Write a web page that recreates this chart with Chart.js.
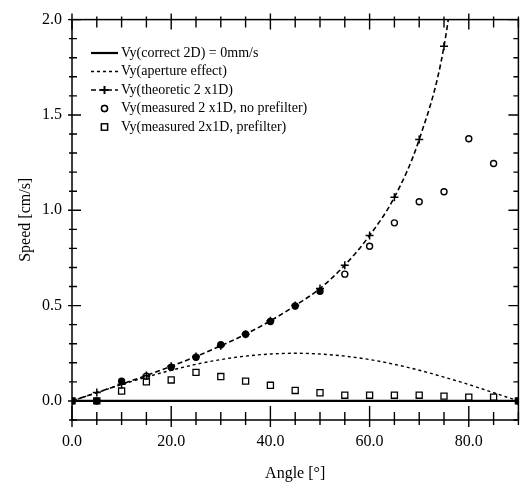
<!DOCTYPE html>
<html>
<head>
<meta charset="utf-8">
<script src="https://cdn.jsdelivr.net/npm/chart.js@4/dist/chart.umd.min.js"></script>
<style>
  body { margin: 0; background: #fff; }
</style>
</head>
<body>
<canvas id="speedchart" width="524" height="485"></canvas>
<script>
// angles in degrees
var angles = [0, 5, 10, 15, 20, 25, 30, 35, 40, 45, 50, 55, 60, 65, 70, 75, 80, 85, 90];

// Vy series (cm/s)
var correct2D = [0, 0, 0, 0, 0, 0, 0, 0, 0, 0, 0, 0, 0, 0, 0, 0, 0, 0, 0];
var aperture = [0, 0.043, 0.086, 0.125, 0.161, 0.192, 0.217, 0.235, 0.246, 0.25, 0.246, 0.235, 0.217, 0.192, 0.161, 0.125, 0.086, 0.043, 0];
var theoAngles = [0, 5, 10, 15, 20, 25, 30, 35, 40, 45, 50, 55, 60, 65, 70, 75, 80];
var theoretic = [0, 0.044, 0.088, 0.134, 0.182, 0.233, 0.289, 0.35, 0.42, 0.5, 0.59, 0.712, 0.868, 1.068, 1.371, 1.86, 2.84];
var noPrefilter = [0, 0, 0.104, 0.13, 0.177, 0.229, 0.295, 0.35, 0.417, 0.498, 0.575, 0.665, 0.811, 0.934, 1.045, 1.097, 1.375, 1.245, 0];
var prefilter = [0, 0, 0.052, 0.1, 0.11, 0.15, 0.128, 0.104, 0.082, 0.055, 0.043, 0.03, 0.03, 0.03, 0.03, 0.025, 0.02, 0.02, 0];

var xLabels = [0, 20, 40, 60, 80];
var yLabels = [0, 0.5, 1.0, 1.5, 2.0];

function pts(xs, ys) {
  return xs.map((x, i) => ({x: x, y: ys[i]}));
}

// marks piled on top of each other look filled in the scan
var circleFill = angles.map(a => (a <= 50 && a != 15) || a == 90 ? '#000' : '#fff');
var squareFill = angles.map(a => (a <= 5 || a == 90) ? '#000' : '#fff');

var data = {
  datasets: [{
    label: 'Vy(correct 2D) = 0mm/s',
    data: pts(angles, correct2D),
    borderColor: '#000',
    borderWidth: 2.2,
    pointRadius: 0
  }, {
    label: 'Vy(aperture effect)',
    data: pts(angles, aperture),
    borderColor: '#000',
    borderWidth: 1.4,
    borderDash: [3, 3],
    pointRadius: 0,
    cubicInterpolationMode: 'monotone'
  }, {
    label: 'Vy(theoretic 2 x1D)',
    data: pts(theoAngles, theoretic),
    borderColor: '#000',
    borderWidth: 1.6,
    borderDash: [5, 3],
    pointStyle: 'cross',
    pointRadius: 4,
    pointBorderWidth: 1.5,
    cubicInterpolationMode: 'monotone'
  }, {
    label: 'Vy(measured 2 x1D, no prefilter)',
    data: pts(angles, noPrefilter),
    showLine: false,
    pointStyle: 'circle',
    pointRadius: 3,
    pointBorderWidth: 1.4,
    pointBorderColor: '#000',
    pointBackgroundColor: circleFill
  }, {
    label: 'Vy(measured 2x1D, prefilter)',
    data: pts(angles, prefilter),
    showLine: false,
    pointStyle: 'rect',
    pointRadius: 4.3,
    pointBorderWidth: 1.3,
    pointBorderColor: '#000',
    pointBackgroundColor: squareFill
  }]
};

// frame + ticks on all four sides, like the original plot
var framePlugin = {
  id: 'frame',
  afterDraw: function(chart) {
    var ctx = chart.ctx, a = chart.chartArea;
    var xs = chart.scales.x, ys = chart.scales.y;
    ctx.save();
    ctx.strokeStyle = '#000';
    ctx.lineWidth = 1.5;
    ctx.strokeRect(a.left, a.top, a.right - a.left, a.bottom - a.top);
    ctx.lineWidth = 1.4;
    ctx.beginPath();
    for (var v = 0; v <= 90; v += 5) {
      var px = xs.getPixelForValue(v);
      var major = v % 20 == 0;
      ctx.moveTo(px, a.bottom + (major ? 7 : 5));
      ctx.lineTo(px, a.bottom - (major ? 14 : 8));
      ctx.moveTo(px, a.top - (major ? 6 : 3));
      ctx.lineTo(px, a.top + (major ? 10 : 8));
    }
    for (var k = -1; k <= 20; k++) {
      var py = ys.getPixelForValue(k / 10);
      var maj = k % 5 == 0;
      ctx.moveTo(a.left - (maj ? 4 : 3), py);
      ctx.lineTo(a.left + (maj ? 9 : 5), py);
      ctx.moveTo(a.right, py);
      ctx.lineTo(a.right - (maj ? 10 : 5), py);
    }
    ctx.stroke();
    ctx.restore();
  }
};

// legend drawn inside the plot, top left
var legendPlugin = {
  id: 'insideLegend',
  afterDraw: function(chart) {
    var ctx = chart.ctx;
    var x0 = 91, x1 = 118, y = 53, step = 18.5;
    ctx.save();
    ctx.font = '14px "Liberation Serif", "Times New Roman", serif';
    ctx.textBaseline = 'middle';
    ctx.fillStyle = '#000';
    ctx.strokeStyle = '#000';
    chart.data.datasets.forEach(function(ds) {
      if (ds.showLine !== false) {
        ctx.lineWidth = ds.borderWidth;
        ctx.setLineDash(ds.borderDash || []);
        ctx.beginPath();
        ctx.moveTo(x0, y);
        ctx.lineTo(x1, y);
        ctx.stroke();
        ctx.setLineDash([]);
      }
      if (ds.pointRadius > 0) {
        Chart.helpers.drawPoint(ctx, {
          pointStyle: ds.pointStyle,
          radius: ds.pointRadius,
          borderWidth: ds.pointBorderWidth,
          rotation: 0
        }, (x0 + x1) / 2, y);
        ctx.lineWidth = ds.pointBorderWidth;
        ctx.fillStyle = '#fff';
        if (ds.showLine === false) ctx.fill();
        ctx.stroke();
        ctx.fillStyle = '#000';
      }
      ctx.fillText(ds.label, x1 + 3, y);
      y += step;
    });
    ctx.restore();
  }
};

var serif = '"Liberation Serif", "Times New Roman", serif';

var config = {
  type: 'line',
  data: data,
  options: {
    responsive: false,
    animation: false,
    layout: { padding: { top: 15, right: 3, left: 0, bottom: 0 } },
    scales: {
      x: {
        type: 'linear',
        min: 0,
        max: 90,
        grid: { display: false, drawTicks: false },
        border: { display: false },
        afterBuildTicks: function(scale) { scale.ticks = xLabels.map(v => ({value: v})); },
        afterFit: function(scale) { scale.height = 65; },
        ticks: {
          padding: 12,
          color: '#000',
          font: { family: serif, size: 16 },
          callback: v => v.toFixed(1)
        },
        title: {
          display: true,
          text: 'Angle [°]',
          color: '#000',
          font: { family: serif, size: 16 },
          padding: { top: 2, bottom: 2 }
        }
      },
      y: {
        min: -0.1,
        max: 2.0,
        grid: { display: false, drawTicks: false },
        border: { display: false },
        afterBuildTicks: function(scale) { scale.ticks = yLabels.map(v => ({value: v})); },
        afterFit: function(scale) { scale.width = 72; },
        ticks: {
          padding: 10,
          color: '#000',
          font: { family: serif, size: 16 },
          callback: v => v.toFixed(1)
        },
        title: {
          display: true,
          text: 'Speed [cm/s]',
          color: '#000',
          font: { family: serif, size: 16 },
          padding: { top: 16, bottom: 0 }
        }
      }
    },
    plugins: {
      legend: { display: false },
      tooltip: { enabled: false }
    }
  },
  plugins: [framePlugin, legendPlugin]
};

var speedctx = document.getElementById('speedchart').getContext('2d');
var speedchart = new Chart(speedctx, config);
</script>
</body>
</html>
